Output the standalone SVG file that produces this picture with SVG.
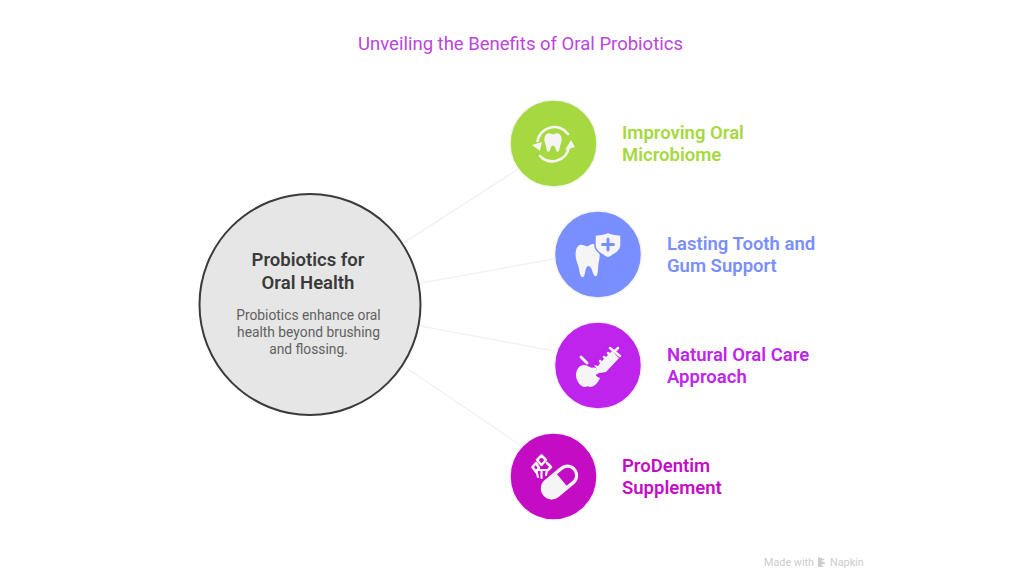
<svg xmlns="http://www.w3.org/2000/svg" width="1024" height="576" viewBox="0 0 1024 576">
<style>
text{font-family:Roboto,"Liberation Sans",sans-serif}
.lab{font-size:18.500px;font-weight:600}
.ic{fill:#f5f5f5}
.ics{fill:none;stroke:#f5f5f5;stroke-linecap:round;stroke-linejoin:round}
.ring{stroke:#f4f4f4;stroke-width:1.500}
.c{stroke:#f2f2f2;stroke-width:1.500;fill:none}
</style>
<defs>
<path id="tooth" d="M-6-12C-3-12-2-10.500 0-10.500C2-10.500 3-12 6-12C10-12 12-8 12-4C12 0 10 2 9.500 6C9 9 8.500 12 6.500 12C4.500 12 4 9 3 6.500C2.400 5 1 4 0 4C-1 4-2.400 5-3 6.500C-4 9-4.500 12-6.500 12C-8.500 12-9 9-9.500 6C-10 2-12 0-12-4C-12-8-10-12-6-12Z"/>
</defs>
<rect width="1024" height="576" fill="#fff"/>
<text x="520.500" y="50" text-anchor="middle" font-size="18.500" fill="#bb44dd">Unveiling the Benefits of Oral Probiotics</text>
<g id="connectors">
<path class="c" d="M405 242L520 168"/>
<path class="c" d="M421 283L554 259"/>
<path class="c" d="M421 326L554 351"/>
<path class="c" d="M405 367L520 445"/>
</g>
<g id="center">
<circle cx="310" cy="304.500" r="110.500" fill="#e6e6e6" stroke="#3a3a3a" stroke-width="2"/>
<text x="308" y="266" text-anchor="middle" font-size="18.500" font-weight="600" fill="#3a3a3a">Probiotics for</text>
<text x="308" y="288.500" text-anchor="middle" font-size="18.500" font-weight="600" fill="#3a3a3a">Oral Health</text>
<text x="308.500" y="320" text-anchor="middle" font-size="13.800" fill="#616161">Probiotics enhance oral</text>
<text x="308.500" y="337" text-anchor="middle" font-size="13.800" fill="#616161">health beyond brushing</text>
<text x="308.500" y="354" text-anchor="middle" font-size="13.800" fill="#616161">and flossing.</text>
</g>
<g id="node-microbiome">
<circle class="ring" cx="553.500" cy="143.500" r="43.500" fill="#a6d83f"/>
<use href="#tooth" class="ic" transform="translate(553 142.500) scale(.72 .78)"/>
<path class="ics" stroke-width="2.600" d="M537.500 141A17 17 0 0 1 568 134"/>
<path class="ics" stroke-width="2.600" d="M569 147A17 17 0 0 1 540 156"/>
<path class="ic" d="M532 145L542 142L540 151ZM565 150L575 147L571 140Z"/>
<text class="lab" x="622" y="139" fill="#a6d83f">Improving Oral</text>
<text class="lab" x="622" y="161" fill="#a6d83f">Microbiome</text>
</g>
<g id="node-support">
<circle class="ring" cx="598" cy="254.500" r="43.500" fill="#7a8fff"/>
<use href="#tooth" class="ic" transform="translate(588 260.500) rotate(-4) scale(1 1.35)"/>
<path class="ic" stroke="#7a8fff" stroke-width="1.500" d="M608 232C611 235 616 234 621 235V246C621 251 614 255 608 258C602 255 595 251 595 246V235C600 234 605 235 608 232Z"/>
<path fill="none" stroke="#7a8fff" stroke-linecap="round" stroke-width="3" d="M608 239V250M602.500 244.500H613.500"/>
<text class="lab" x="667" y="250" fill="#7a8fff">Lasting Tooth and</text>
<text class="lab" x="667" y="272" fill="#7a8fff">Gum Support</text>
</g>
<g id="node-natural">
<circle class="ring" cx="598" cy="365.500" r="43.500" fill="#bf24ec"/>
<path class="ic" d="M584 365C587 365 589 367 592 368C594 367 597 368 599 370C595 373 594 376 600 378C598 383 594 387 590 387C588 386 587 386 585 387C580 387 576 380 576 375C576 369 580 365 584 365Z"/>
<path class="ics" stroke-width="3" d="M581 357L587 363"/>
<path d="M593 374L597 369L594 365L598 366L601 362L612 351L619 358L606 372Z" class="ic"/>
<path class="ics" stroke-width="2.500" d="M600 361L604 365M604 357L609 362M608 353L613 358M610 348L620 356M614 352L618 348"/>
<path class="ics" stroke-width="4" d="M594 374L602 368"/>
<text class="lab" x="667" y="361" fill="#bf24ec">Natural Oral Care</text>
<text class="lab" x="667" y="383" fill="#bf24ec">Approach</text>
</g>
<g id="node-prodentim">
<circle class="ring" cx="553.500" cy="476.500" r="43.500" fill="#c40cc4"/>
<g transform="translate(559.500 482) rotate(-40)">
<rect x="-21" y="-11" width="42" height="22" rx="11" class="ic"/>
<path d="M3-7.500H10.500A7.500 7.500 0 0 1 10.500 7.500H3Z" fill="#c40cc4"/>
</g>
<path class="ics" stroke-width="2.500" d="M541.500 455.500L546 460L541.500 465L537 460ZM536 463L532.500 467L536 472L539 468ZM547 463L551 467L548 470"/>
<path class="ics" stroke-width="2.200" d="M538 477L536 470H547L546 475M541.500 470V478"/>
<text class="lab" x="622" y="472" fill="#c40cc4">ProDentim</text>
<text class="lab" x="622" y="494" fill="#c40cc4">Supplement</text>
</g>
<g id="watermark" fill="#cccccc">
<text x="764" y="566" font-size="10.800">Made with</text>
<path d="M818 557L825 559.500L821 561L826 563L821 565L824 567L818 567Z"/>
<text x="830" y="566" font-size="10.800">Napkin</text>
</g>
</svg>
